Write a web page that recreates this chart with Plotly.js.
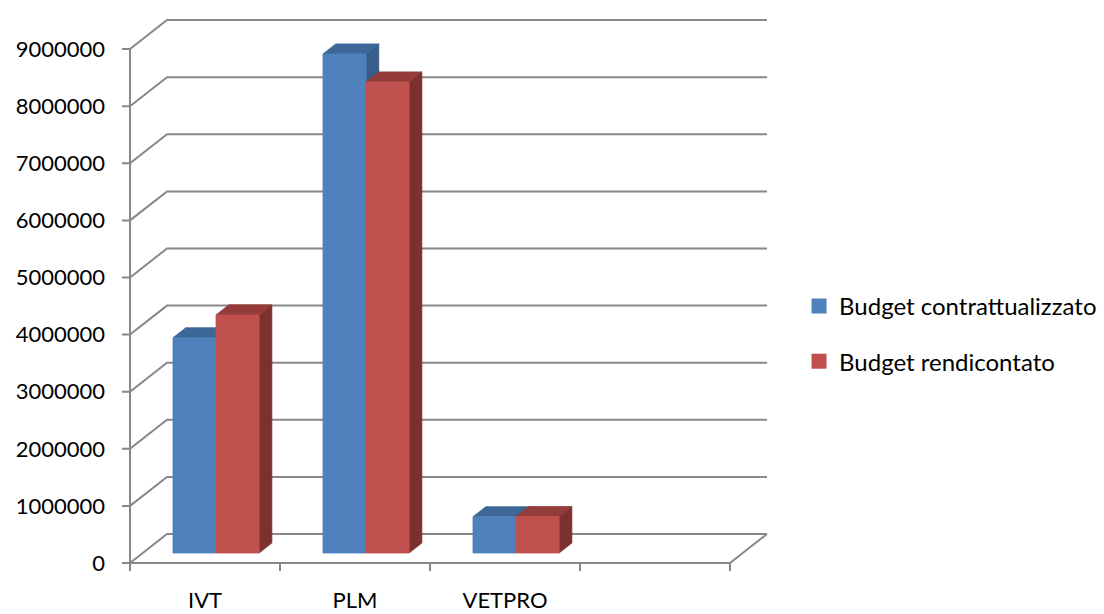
<!DOCTYPE html>
<html>
<head>
<meta charset="utf-8">
<script src="https://cdn.plot.ly/plotly-3.0.1.min.js"></script>
<style>html,body{margin:0;padding:0;background:#fff;}#chart{width:1104px;height:614px;}</style>
</head>
<body>
<div id="chart"></div>
<script>
// ---- data ----
const categories = ['IVT', 'PLM', 'VETPRO', ''];
const seriesNames = ['Budget contrattualizzato', 'Budget rendicontato'];
const contrattualizzato = [3770000, 8740000, 635000];
const rendicontato = [4170000, 8250000, 640000];
const yTicks = [0, 1000000, 2000000, 3000000, 4000000, 5000000, 6000000, 7000000, 8000000, 9000000];

// ---- styling / geometry ----
const frontColors = ['#4F81BD', '#C0504D'];
const topColors = ['#3C6797', '#943C3A'];
const sideColors = ['#375D8B', '#7C302F'];
const gridColor = '#888888';
const DX = 37 / 150;            // depth offset along x (category units)
const DY = 29 / 57.1 * 1e6;     // depth offset along y (value units)
const ZF = 0.345, ZB = 0.69;    // bar front / back depth fractions
const BAR_W = 0.287, BAR_START = 0.2015;
const TICK_X = 8 / 150, TICK_Y = 8 / 57.1 * 1e6;
const nSlots = categories.length;

function P(x, v, z) { return [x + z * DX, v + z * DY]; }

// structure lines (walls, floor, ticks)
const sx = [], sy = [];
function seg(pts) { pts.forEach(p => { sx.push(p[0]); sy.push(p[1]); }); sx.push(null); sy.push(null); }
const yMax = yTicks[yTicks.length - 1];
seg([P(0, 0, 0), P(0, yMax, 0)]);
yTicks.forEach(v => {
  seg([[-TICK_X, v], P(0, v, 0), P(0, v, 1), P(nSlots, v, 1)]);
});
seg([P(0, 0, 0), P(nSlots, 0, 0), P(nSlots, 0, 1)]);
for (let i = 0; i <= nSlots; i++) seg([[i, 0], [i, -TICK_Y]]);

const traces = [{
  type: 'scatter', mode: 'lines', x: sx, y: sy, showlegend: false, hoverinfo: 'skip',
  line: { color: gridColor, width: 2 }
}];

[contrattualizzato, rendicontato].forEach((vals, s) => {
  const faces = { side: [[], []], top: [[], []], front: [[], []] };
  vals.forEach((val, i) => {
    const x0 = i + BAR_START + s * BAR_W, x1 = x0 + BAR_W;
    const polys = {
      side: [P(x1, 0, ZF), P(x1, 0, ZB), P(x1, val, ZB), P(x1, val, ZF)],
      top: [P(x0, val, ZF), P(x1, val, ZF), P(x1, val, ZB), P(x0, val, ZB)],
      front: [P(x0, 0, ZF), P(x1, 0, ZF), P(x1, val, ZF), P(x0, val, ZF)]
    };
    Object.keys(polys).forEach(k => {
      polys[k].forEach(p => { faces[k][0].push(p[0]); faces[k][1].push(p[1]); });
      faces[k][0].push(polys[k][0][0]); faces[k][1].push(polys[k][0][1]);
      faces[k][0].push(null); faces[k][1].push(null);
    });
  });
  const cols = { side: sideColors[s], top: topColors[s], front: frontColors[s] };
  ['side', 'top', 'front'].forEach(k => {
    traces.push({
      type: 'scatter', mode: 'lines', x: faces[k][0], y: faces[k][1], fill: 'toself',
      fillcolor: cols[k], line: { color: cols[k], width: 0.8 }, showlegend: false, hoverinfo: 'skip'
    });
  });
});

// legend entries
seriesNames.forEach((name, s) => {
  traces.push({
    type: 'scatter', mode: 'markers', x: [null], y: [null], name: name, legendgroup: 'g' + s,
    marker: { symbol: 'square', size: 15, color: frontColors[s] }
  });
});

const font = { family: 'Lato, "Open Sans", sans-serif', size: 22, color: '#000' };
const legendFont = { family: 'Lato, "Open Sans", sans-serif', size: 24, color: '#000' };

const layout = {
  width: 1104, height: 614,
  margin: { l: 115, r: 314, t: 5, b: 34, pad: 0, autoexpand: false },
  paper_bgcolor: '#fff', plot_bgcolor: '#fff',
  font: font,
  showlegend: true,
  legend: {
    x: 1.0134, xanchor: 'left', y: 0.428, yanchor: 'middle',
    font: legendFont, traceorder: 'grouped', tracegroupgap: 21, bgcolor: 'rgba(0,0,0,0)'
  },
  xaxis: {
    range: [-0.1, 4.4], showgrid: false, zeroline: false, showline: false,
    tickmode: 'array', tickvals: categories.map((c, i) => i + 0.5), ticktext: categories,
    ticks: '', ticklabelstandoff: 5, tickfont: font
  },
  yaxis: {
    range: [-297700, 9772000], showgrid: false, zeroline: false, showline: false,
    tickmode: 'array', tickvals: yTicks, ticktext: yTicks.map(v => String(v)),
    ticks: '', ticklabelstandoff: 9, tickfont: font
  }
};

Plotly.newPlot('chart', traces, layout, { staticPlot: true });
</script>
</body>
</html>
